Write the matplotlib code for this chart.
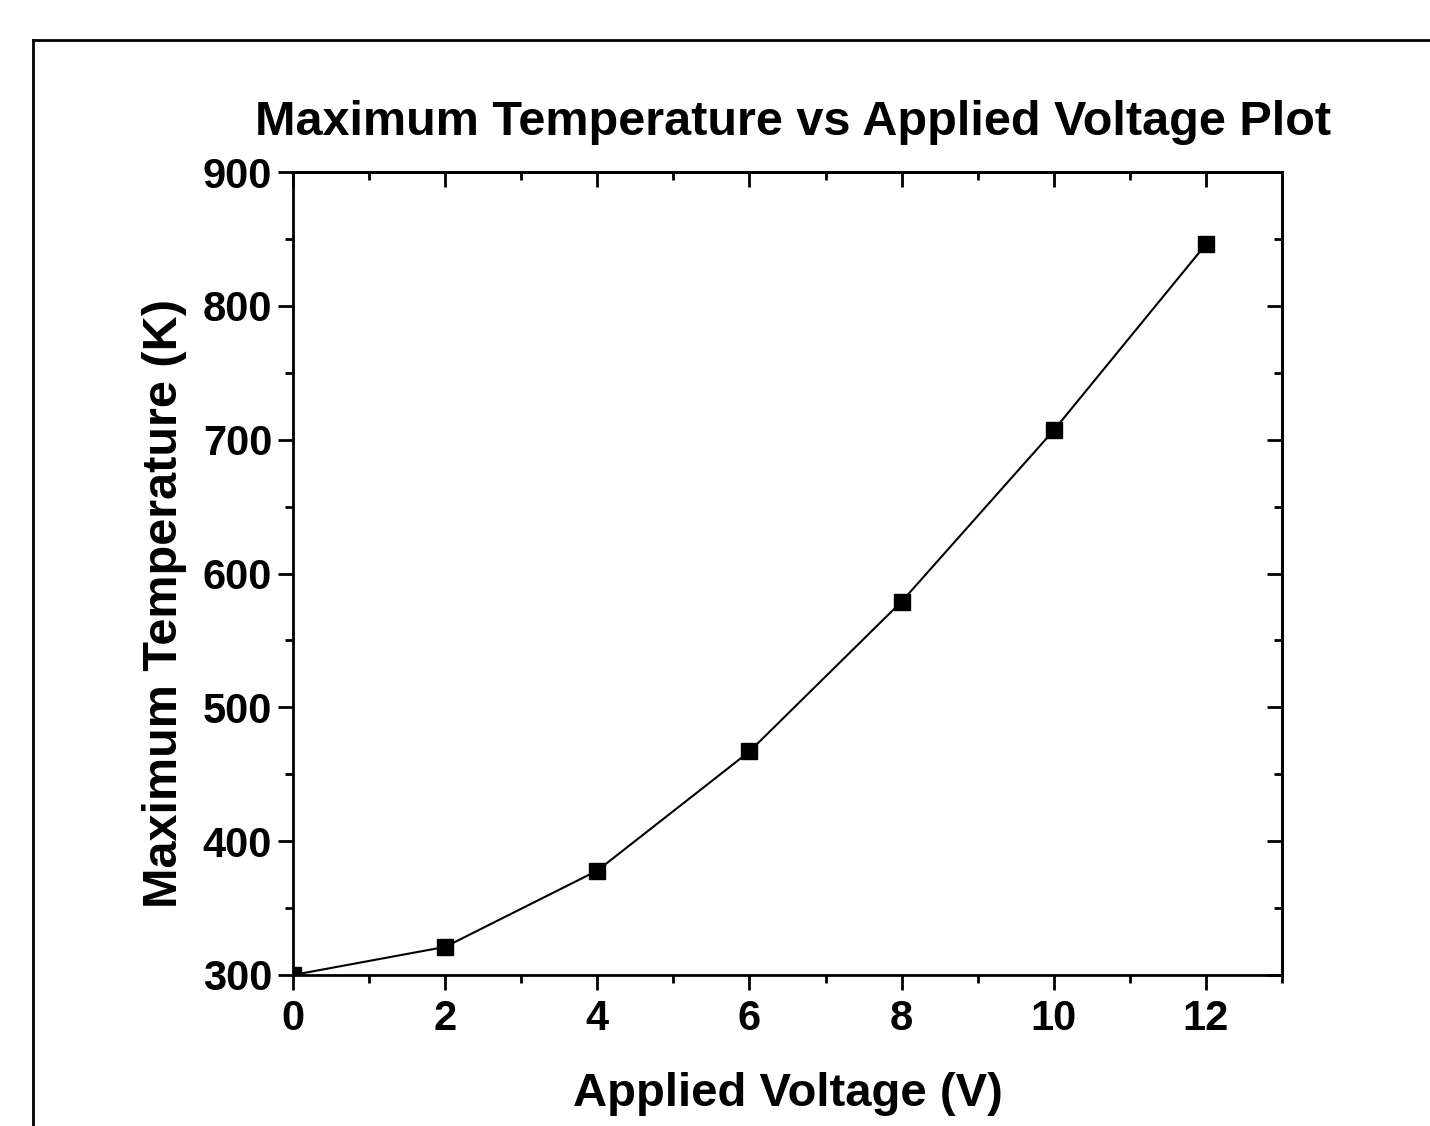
import matplotlib
matplotlib.use('Agg')
import matplotlib.pyplot as plt
from matplotlib.lines import Line2D

# data
voltage = [0, 2, 4, 6, 8, 10, 12]
max_temp = [300, 321, 378, 467, 579, 707, 846]

plt.rcParams['font.family'] = ['Liberation Sans', 'DejaVu Sans']
plt.rcParams['font.weight'] = 'bold'

W, H = 1430, 1126
fig = plt.figure(figsize=(W / 100, H / 100), dpi=100)
ax = fig.add_axes([293 / W, 1 - 975 / H, (1282 - 293) / W, (975 - 172) / H])

ax.plot(voltage, max_temp, color='black', lw=1.5, marker='s', ms=12,
        markerfacecolor='black', markeredgecolor='black', clip_on=True)

ax.set_xlim(0, 13)
ax.set_ylim(300, 900)
ax.set_xticks(range(0, 13, 2))
ax.set_xticks(range(1, 14, 2), minor=True)
ax.set_yticks(range(300, 901, 100))
ax.set_yticks(range(350, 900, 100), minor=True)

for s in ax.spines.values():
    s.set_linewidth(2)

ax.tick_params(which='both', width=2, labelsize=30)
ax.tick_params(which='major', length=11)
ax.tick_params(which='minor', length=6)
ax.tick_params(axis='x', which='both', bottom=True, top=False, direction='out', pad=6)
ax.tick_params(axis='y', which='both', left=True, right=False, direction='out', pad=4)

# inward ticks on the top and right, Origin style
top = ax.secondary_xaxis('top')
top.set_xticks(range(0, 13, 2))
top.set_xticks(range(1, 14, 2), minor=True)
top.tick_params(which='both', direction='in', width=2, labeltop=False)
top.tick_params(which='major', length=11)
top.tick_params(which='minor', length=6)
top.spines['top'].set_linewidth(2)
right = ax.secondary_yaxis('right')
right.set_yticks(range(300, 901, 100))
right.set_yticks(range(350, 900, 100), minor=True)
right.tick_params(which='both', direction='in', width=2, labelright=False)
right.tick_params(which='major', length=11)
right.tick_params(which='minor', length=6)
right.spines['right'].set_linewidth(2)

for lab in ax.get_xticklabels() + ax.get_yticklabels():
    lab.set_fontweight('bold')

ax.set_xlabel('Applied Voltage (V)', fontsize=34, fontweight='bold', labelpad=24)
ax.set_ylabel('Maximum Temperature (K)', fontsize=35, fontweight='bold')
ax.yaxis.set_label_coords(-0.107, 0.463)
fig.text(793 / W, 1 - 135 / H, 'Maximum Temperature vs Applied Voltage Plot',
         fontsize=35, fontweight='bold', ha='center', va='baseline')

# outer frame (left and top edges only visible)
fig.add_artist(Line2D([33 / W, 33 / W], [0, 1 - 40 / H], color='black', lw=2))
fig.add_artist(Line2D([33 / W, 1], [1 - 40 / H, 1 - 40 / H], color='black', lw=2))

fig.savefig('out.png', dpi=100)
